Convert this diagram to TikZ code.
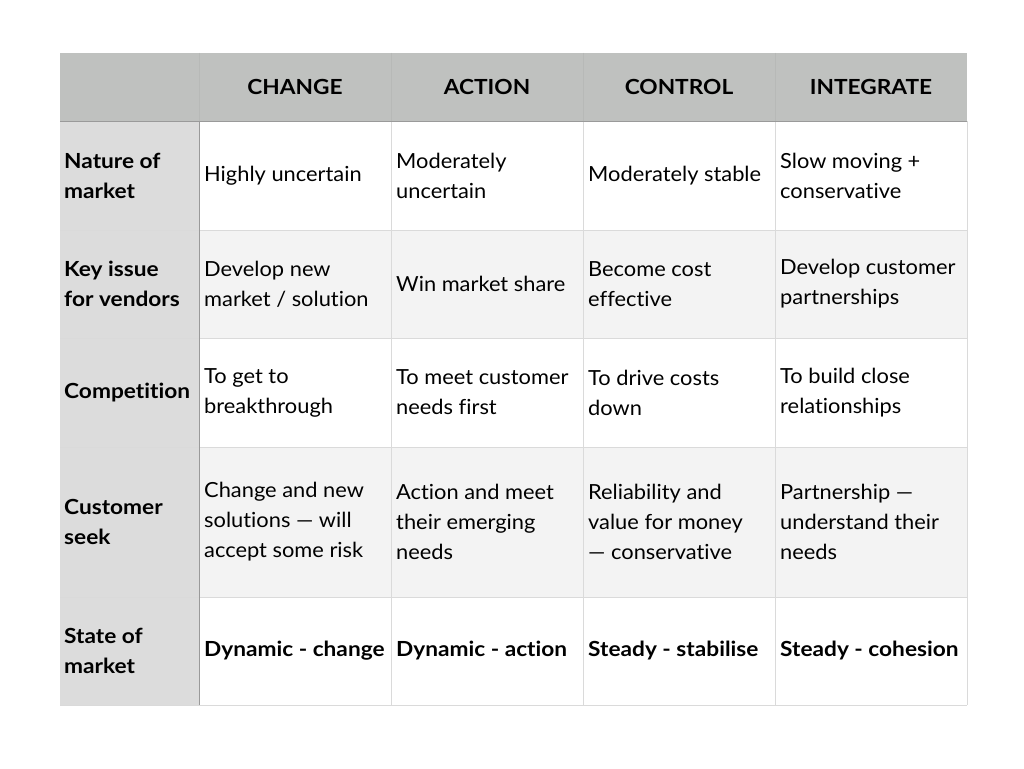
\documentclass[tikz,border=0pt]{standalone}
\usepackage{fontspec}
\setmainfont{Lato}[FakeStretch=1.05,Ligatures=NoCommon,BoldFeatures={FakeStretch=1.09}]
\definecolor{hdr}{HTML}{BFC1BF}
\definecolor{firstcol}{HTML}{DCDCDC}
\definecolor{altrow}{HTML}{F3F3F3}
\definecolor{gridl}{HTML}{DADADA}
\definecolor{darkl}{HTML}{9A9A9A}
\begin{document}
\begin{tikzpicture}[x=1pt,y=-1pt,
  cell/.style={anchor=west,align=left,inner sep=0pt,font=\fontsize{20.8}{30}\selectfont,text=black},
  rowhead/.style={cell,font=\fontsize{20.8}{30}\selectfont\bfseries},
  colhead/.style={anchor=center,inner sep=0pt,font=\fontsize{20.8}{30}\selectfont\bfseries},
  boldcell/.style={cell,font=\fontsize{20.8}{30}\selectfont\bfseries}]
\useasboundingbox (0,0) rectangle (1024,768);
\fill[white] (0,0) rectangle (1024,768);
% backgrounds
\fill[hdr] (60,53) rectangle (967,121);
\fill[firstcol] (60,121) rectangle (199,705);
\fill[altrow] (199,230) rectangle (967,338);
\fill[altrow] (199,447) rectangle (967,597);
% grid lines
\foreach \y in {230,338,447,597,705} \draw[gridl,line width=0.8pt] (60,\y) -- (967,\y);
\foreach \x in {391,583,775,967} \draw[gridl,line width=0.8pt] (\x,121) -- (\x,705);
\foreach \x in {199,391,583,775} \draw[hdr!96!black,line width=0.5pt] (\x,53) -- (\x,121);
\draw[darkl,line width=1pt] (60,121) -- (967,121);
\draw[darkl,line width=1pt] (199,121) -- (199,705);
% header
\node[colhead] (h1) at (295,87) {CHANGE};
\node[colhead] (h2) at (487,87) {ACTION};
\node[colhead] (h3) at (679,87) {CONTROL};
\node[colhead] (h4) at (871,87) {INTEGRATE};
% row heads
\node[rowhead] (r1) at (64,175.5) {Nature of\\market};
\node[rowhead] (r2) at (64,284) {Key issue\\for vendors};
\node[rowhead] (r3) at (64,392.5) {Competition};
\node[rowhead] (r4) at (64,522) {Customer\\seek};
\node[rowhead] (r5) at (64,651) {State of\\market};
% row 1
\node[cell] (c11) at (204,175.5) {Highly uncertain};
\node[cell] (c12) at (396,175.5) {Moderately\\uncertain};
\node[cell] (c13) at (588,175.5) {Moderately stable};
\node[cell] (c14) at (780,175.5) {Slow moving +\\conservative};
% row 2
\node[cell] (c21) at (204,284) {Develop new\\market / solution};
\node[cell] (c22) at (396,284) {Win market share};
\node[cell] (c23) at (588,284) {Become cost\\effective};
\node[cell] (c24) at (780,284) {Develop customer\\partnerships};
% row 3
\node[cell] (c31) at (204,392.5) {To get to\\breakthrough};
\node[cell] (c32) at (396,392.5) {To meet customer\\needs first};
\node[cell] (c33) at (588,392.5) {To drive costs\\down};
\node[cell] (c34) at (780,392.5) {To build close\\relationships};
% row 4
\node[cell] (c41) at (204,522) {Change and new\\solutions — will\\accept some risk};
\node[cell] (c42) at (396,522) {Action and meet\\their emerging\\needs};
\node[cell] (c43) at (588,522) {Reliability and\\value for money\\— conservative};
\node[cell] (c44) at (780,522) {Partnership —\\understand their\\needs};
% row 5
\node[boldcell] (c51) at (204,651) {Dynamic - change};
\node[boldcell] (c52) at (396,651) {Dynamic - action};
\node[boldcell] (c53) at (588,651) {Steady - stabilise};
\node[boldcell] (c54) at (780,651) {Steady - cohesion};
\end{tikzpicture}
\end{document}
